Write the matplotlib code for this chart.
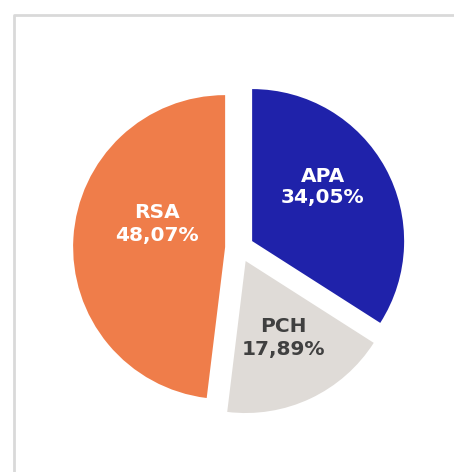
import matplotlib.pyplot as plt

labels = ['APA', 'PCH', 'RSA']
shares = [34.05, 17.89, 48.07]
colors = ['#1f22aa', '#dfdbd7', '#ef7d4a']
text_colors = ['white', '#404040', 'white']
# label centres in pixel coords (x, y from top)
label_pos = [(323, 187), (283, 338), (157, 224)]

W, H = 454, 472
fig = plt.figure(figsize=(W / 100, H / 100), dpi=100)
ax = fig.add_axes([0, 0, 1, 1])
ax.axis('off')

# pie in pixel units; explode is an absolute offset in data units
ax.pie(shares, colors=colors, startangle=90, counterclock=False,
       center=(239.5, H - 248), radius=152, explode=[14.4] * 3,
       wedgeprops={'linewidth': 0})
ax.set_xlim(0, W)
ax.set_ylim(0, H)
ax.set_aspect('auto')

# chart frame (only left and top edges are inside the picture)
ax.plot([13.5, 13.5, W - 1], [0, H - 14.5, H - 14.5], color='#d9d9d9', lw=2)

for lab, val, c, (x, y) in zip(labels, shares, text_colors, label_pos):
    txt = '{}\n{}%'.format(lab, ('%.2f' % val).replace('.', ','))
    ax.text(x, H - y, txt, ha='center', va='center', color=c,
            fontsize=14.5, fontweight='bold', family='DejaVu Sans', linespacing=1.2)

fig.savefig('out.png', dpi=100)
